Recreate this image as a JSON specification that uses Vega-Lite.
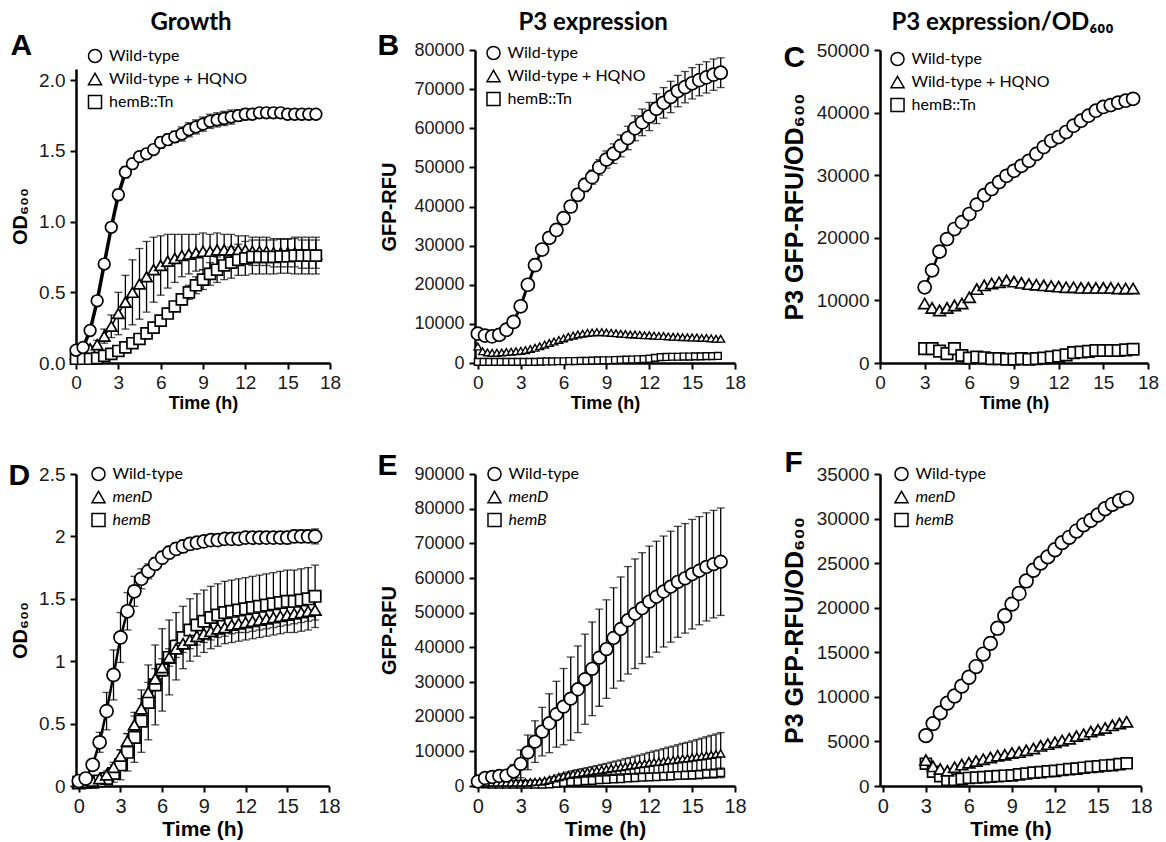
{
"$schema": "https://vega.github.io/schema/vega-lite/v6.json",
"padding": {"left": 8, "top": 10, "right": 6, "bottom": 6},
"background": "white",
"columns": 3,
"bounds": "flush",
"spacing": {"row": 111, "column": 145},
"resolve": {"scale": {"shape": "independent", "stroke": "independent"}, "legend": {"shape": "independent", "stroke": "independent"}},
"config": {
  "view": {"stroke": null},
  "axis": {"domainColor": "black", "domainWidth": 2.5, "tickColor": "black", "tickWidth": 2, "tickSize": 6, "grid": false, "labelFont": "Liberation Sans", "labelColor": "#1a1a1a", "titleFont": "Liberation Sans", "titleFontWeight": "bold", "titleColor": "black", "labelFlush": false, "labelOverlap": false, "labelBound": false},
  "axisX": {"labelPadding": 4, "titlePadding": 2},
  "axisY": {"labelPadding": 5, "titlePadding": 9},
  "point": {"filled": false, "fill": "white", "opacity": 1},
  "legend": {"title": null, "orient": "none", "symbolSize": 170, "symbolFillColor": "white", "symbolStrokeColor": "black", "symbolStrokeWidth": 1.5, "symbolOpacity": 1, "labelFont": "Lato", "labelFontSize": 16, "labelColor": "black", "labelOffset": 6, "rowPadding": 4, "padding": 0}
},
"datasets": {
"A": [
{"s":0,"t":0,"v":0.09,"e":0.01},{"s":0,"t":0.5,"v":0.11,"e":0.01},{"s":0,"t":1,"v":0.23,"e":0.02},{"s":0,"t":1.5,"v":0.44,"e":0.03},{"s":0,"t":2,"v":0.7,"e":0.03},{"s":0,"t":2.5,"v":0.96,"e":0.03},{"s":0,"t":3,"v":1.19,"e":0.04},{"s":0,"t":3.5,"v":1.35,"e":0.04},{"s":0,"t":4,"v":1.41,"e":0.03},{"s":0,"t":4.5,"v":1.46,"e":0.03},{"s":0,"t":5,"v":1.48,"e":0.03},{"s":0,"t":5.5,"v":1.51,"e":0.03},{"s":0,"t":6,"v":1.56,"e":0.04},{"s":0,"t":6.5,"v":1.58,"e":0.04},{"s":0,"t":7,"v":1.6,"e":0.04},{"s":0,"t":7.5,"v":1.62,"e":0.05},{"s":0,"t":8,"v":1.65,"e":0.05},{"s":0,"t":8.5,"v":1.67,"e":0.05},{"s":0,"t":9,"v":1.69,"e":0.05},{"s":0,"t":9.5,"v":1.71,"e":0.05},{"s":0,"t":10,"v":1.72,"e":0.05},{"s":0,"t":10.5,"v":1.73,"e":0.05},{"s":0,"t":11,"v":1.74,"e":0.05},{"s":0,"t":11.5,"v":1.75,"e":0.04},{"s":0,"t":12,"v":1.76,"e":0.04},{"s":0,"t":12.5,"v":1.76,"e":0.03},{"s":0,"t":13,"v":1.77,"e":0.03},{"s":0,"t":13.5,"v":1.77,"e":0.02},{"s":0,"t":14,"v":1.77,"e":0.02},{"s":0,"t":14.5,"v":1.77,"e":0.02},{"s":0,"t":15,"v":1.76,"e":0.02},{"s":0,"t":15.5,"v":1.76,"e":0.02},{"s":0,"t":16,"v":1.76,"e":0.02},{"s":0,"t":16.5,"v":1.76,"e":0.02},{"s":0,"t":17,"v":1.76,"e":0.02},
{"s":1,"t":0,"v":0.06,"e":0.01},{"s":1,"t":0.5,"v":0.08,"e":0.01},{"s":1,"t":1,"v":0.1,"e":0.02},{"s":1,"t":1.5,"v":0.13,"e":0.03},{"s":1,"t":2,"v":0.19,"e":0.05},{"s":1,"t":2.5,"v":0.26,"e":0.08},{"s":1,"t":3,"v":0.35,"e":0.15},{"s":1,"t":3.5,"v":0.43,"e":0.19},{"s":1,"t":4,"v":0.5,"e":0.23},{"s":1,"t":4.5,"v":0.56,"e":0.25},{"s":1,"t":5,"v":0.61,"e":0.25},{"s":1,"t":5.5,"v":0.66,"e":0.23},{"s":1,"t":6,"v":0.69,"e":0.21},{"s":1,"t":6.5,"v":0.72,"e":0.19},{"s":1,"t":7,"v":0.74,"e":0.17},{"s":1,"t":7.5,"v":0.76,"e":0.15},{"s":1,"t":8,"v":0.77,"e":0.14},{"s":1,"t":8.5,"v":0.78,"e":0.13},{"s":1,"t":9,"v":0.79,"e":0.13},{"s":1,"t":9.5,"v":0.79,"e":0.12},{"s":1,"t":10,"v":0.8,"e":0.12},{"s":1,"t":10.5,"v":0.8,"e":0.11},{"s":1,"t":11,"v":0.8,"e":0.11},{"s":1,"t":11.5,"v":0.8,"e":0.1},{"s":1,"t":12,"v":0.8,"e":0.1},{"s":1,"t":12.5,"v":0.79,"e":0.1},{"s":1,"t":13,"v":0.79,"e":0.1},{"s":1,"t":13.5,"v":0.79,"e":0.1},{"s":1,"t":14,"v":0.78,"e":0.1},{"s":1,"t":14.5,"v":0.78,"e":0.1},{"s":1,"t":15,"v":0.78,"e":0.1},{"s":1,"t":15.5,"v":0.78,"e":0.1},{"s":1,"t":16,"v":0.77,"e":0.1},{"s":1,"t":16.5,"v":0.77,"e":0.1},{"s":1,"t":17,"v":0.77,"e":0.1},
{"s":2,"t":0,"v":0.03},{"s":2,"t":0.5,"v":0.03},{"s":2,"t":1,"v":0.03},{"s":2,"t":1.5,"v":0.035},{"s":2,"t":2,"v":0.05},{"s":2,"t":2.5,"v":0.065},{"s":2,"t":3,"v":0.085},{"s":2,"t":3.5,"v":0.11},{"s":2,"t":4,"v":0.14,"e":0.01},{"s":2,"t":4.5,"v":0.17,"e":0.01},{"s":2,"t":5,"v":0.21,"e":0.01},{"s":2,"t":5.5,"v":0.25,"e":0.02},{"s":2,"t":6,"v":0.3,"e":0.02},{"s":2,"t":6.5,"v":0.35,"e":0.03},{"s":2,"t":7,"v":0.4,"e":0.03},{"s":2,"t":7.5,"v":0.45,"e":0.04},{"s":2,"t":8,"v":0.5,"e":0.05},{"s":2,"t":8.5,"v":0.55,"e":0.06},{"s":2,"t":9,"v":0.59,"e":0.07},{"s":2,"t":9.5,"v":0.63,"e":0.08},{"s":2,"t":10,"v":0.66,"e":0.09},{"s":2,"t":10.5,"v":0.69,"e":0.1},{"s":2,"t":11,"v":0.71,"e":0.11},{"s":2,"t":11.5,"v":0.73,"e":0.11},{"s":2,"t":12,"v":0.74,"e":0.12},{"s":2,"t":12.5,"v":0.75,"e":0.12},{"s":2,"t":13,"v":0.75,"e":0.12},{"s":2,"t":13.5,"v":0.75,"e":0.12},{"s":2,"t":14,"v":0.75,"e":0.12},{"s":2,"t":14.5,"v":0.755,"e":0.12},{"s":2,"t":15,"v":0.755,"e":0.12},{"s":2,"t":15.5,"v":0.76,"e":0.13},{"s":2,"t":16,"v":0.76,"e":0.13},{"s":2,"t":16.5,"v":0.76,"e":0.13},{"s":2,"t":17,"v":0.76,"e":0.13}
],
"B": [
{"s":0,"t":0,"v":7500,"e":500},{"s":0,"t":0.5,"v":7000,"e":500},{"s":0,"t":1,"v":6800,"e":500},{"s":0,"t":1.5,"v":7200,"e":600},{"s":0,"t":2,"v":8500,"e":700},{"s":0,"t":2.5,"v":10500,"e":900},{"s":0,"t":3,"v":14500,"e":1000},{"s":0,"t":3.5,"v":20000,"e":1200},{"s":0,"t":4,"v":25000,"e":1200},{"s":0,"t":4.5,"v":29000,"e":1200},{"s":0,"t":5,"v":32000,"e":1200},{"s":0,"t":5.5,"v":34000,"e":1300},{"s":0,"t":6,"v":37000,"e":1400},{"s":0,"t":6.5,"v":40000,"e":1500},{"s":0,"t":7,"v":43000,"e":1600},{"s":0,"t":7.5,"v":45500,"e":1700},{"s":0,"t":8,"v":47500,"e":1800},{"s":0,"t":8.5,"v":50000,"e":2000},{"s":0,"t":9,"v":52000,"e":2200},{"s":0,"t":9.5,"v":53500,"e":2500},{"s":0,"t":10,"v":55500,"e":2800},{"s":0,"t":10.5,"v":57500,"e":3000},{"s":0,"t":11,"v":60000,"e":3200},{"s":0,"t":11.5,"v":61500,"e":3400},{"s":0,"t":12,"v":63000,"e":3600},{"s":0,"t":12.5,"v":65000,"e":3800},{"s":0,"t":13,"v":66500,"e":3900},{"s":0,"t":13.5,"v":68000,"e":4000},{"s":0,"t":14,"v":69500,"e":4000},{"s":0,"t":14.5,"v":70500,"e":4000},{"s":0,"t":15,"v":71500,"e":4000},{"s":0,"t":15.5,"v":72300,"e":4000},{"s":0,"t":16,"v":73000,"e":4000},{"s":0,"t":16.5,"v":73700,"e":4000},{"s":0,"t":17,"v":74200,"e":3800},
{"s":1,"t":0,"v":4200},{"s":1,"t":0.33,"v":3000},{"s":1,"t":0.67,"v":2700},{"s":1,"t":1,"v":2600},{"s":1,"t":1.33,"v":2600},{"s":1,"t":1.67,"v":2700},{"s":1,"t":2,"v":2800},{"s":1,"t":2.33,"v":2900},{"s":1,"t":2.67,"v":3000},{"s":1,"t":3,"v":3100},{"s":1,"t":3.33,"v":3300},{"s":1,"t":3.67,"v":3600},{"s":1,"t":4,"v":3900},{"s":1,"t":4.33,"v":4300},{"s":1,"t":4.67,"v":4700},{"s":1,"t":5,"v":5100},{"s":1,"t":5.33,"v":5500},{"s":1,"t":5.67,"v":5900},{"s":1,"t":6,"v":6300},{"s":1,"t":6.33,"v":6700},{"s":1,"t":6.67,"v":7000},{"s":1,"t":7,"v":7300},{"s":1,"t":7.33,"v":7500},{"s":1,"t":7.67,"v":7700},{"s":1,"t":8,"v":7800},{"s":1,"t":8.33,"v":7900},{"s":1,"t":8.67,"v":7900},{"s":1,"t":9,"v":7800},{"s":1,"t":9.33,"v":7700},{"s":1,"t":9.67,"v":7600},{"s":1,"t":10,"v":7500},{"s":1,"t":10.33,"v":7400},{"s":1,"t":10.67,"v":7300},{"s":1,"t":11,"v":7300},{"s":1,"t":11.33,"v":7200},{"s":1,"t":11.67,"v":7100},{"s":1,"t":12,"v":7100},{"s":1,"t":12.33,"v":7000},{"s":1,"t":12.67,"v":6900},{"s":1,"t":13,"v":6900},{"s":1,"t":13.33,"v":6800},{"s":1,"t":13.67,"v":6700},{"s":1,"t":14,"v":6700},{"s":1,"t":14.33,"v":6600},{"s":1,"t":14.67,"v":6600},{"s":1,"t":15,"v":6500},{"s":1,"t":15.33,"v":6500},{"s":1,"t":15.67,"v":6400},{"s":1,"t":16,"v":6400},{"s":1,"t":16.33,"v":6300},{"s":1,"t":16.67,"v":6200},{"s":1,"t":17,"v":6200},
{"s":2,"t":0,"v":300},{"s":2,"t":0.4,"v":300},{"s":2,"t":0.8,"v":300},{"s":2,"t":1.2,"v":300},{"s":2,"t":1.6,"v":300},{"s":2,"t":2,"v":300},{"s":2,"t":2.4,"v":300},{"s":2,"t":2.8,"v":300},{"s":2,"t":3.2,"v":300},{"s":2,"t":3.6,"v":300},{"s":2,"t":4,"v":300},{"s":2,"t":4.4,"v":350},{"s":2,"t":4.8,"v":400},{"s":2,"t":5.2,"v":400},{"s":2,"t":5.6,"v":450},{"s":2,"t":6,"v":450},{"s":2,"t":6.4,"v":500},{"s":2,"t":6.8,"v":500},{"s":2,"t":7.2,"v":550},{"s":2,"t":7.6,"v":550},{"s":2,"t":8,"v":600},{"s":2,"t":8.4,"v":650},{"s":2,"t":8.8,"v":700},{"s":2,"t":9.2,"v":700},{"s":2,"t":9.6,"v":750},{"s":2,"t":10,"v":800},{"s":2,"t":10.4,"v":850},{"s":2,"t":10.8,"v":900},{"s":2,"t":11.2,"v":950},{"s":2,"t":11.6,"v":1000},{"s":2,"t":12,"v":1100},{"s":2,"t":12.4,"v":1300},{"s":2,"t":12.8,"v":1500},{"s":2,"t":13.2,"v":1550},{"s":2,"t":13.6,"v":1600},{"s":2,"t":14,"v":1600},{"s":2,"t":14.4,"v":1650},{"s":2,"t":14.8,"v":1650},{"s":2,"t":15.2,"v":1700},{"s":2,"t":15.6,"v":1700},{"s":2,"t":16,"v":1750},{"s":2,"t":16.4,"v":1750},{"s":2,"t":16.8,"v":1800}
],
"C": [
{"s":0,"t":3,"v":12100},{"s":0,"t":3.5,"v":14800},{"s":0,"t":4,"v":17800},{"s":0,"t":4.5,"v":19800},{"s":0,"t":5,"v":21400},{"s":0,"t":5.5,"v":22500},{"s":0,"t":6,"v":23800},{"s":0,"t":6.5,"v":25300},{"s":0,"t":7,"v":26800},{"s":0,"t":7.5,"v":27800},{"s":0,"t":8,"v":28900},{"s":0,"t":8.5,"v":29900},{"s":0,"t":9,"v":30700},{"s":0,"t":9.5,"v":31500},{"s":0,"t":10,"v":32300},{"s":0,"t":10.5,"v":33400},{"s":0,"t":11,"v":34500},{"s":0,"t":11.5,"v":35500},{"s":0,"t":12,"v":36100},{"s":0,"t":12.5,"v":36900},{"s":0,"t":13,"v":37900},{"s":0,"t":13.5,"v":38700},{"s":0,"t":14,"v":39500},{"s":0,"t":14.5,"v":40300},{"s":0,"t":15,"v":40900},{"s":0,"t":15.5,"v":41200},{"s":0,"t":16,"v":41600},{"s":0,"t":16.5,"v":41900},{"s":0,"t":17,"v":42200},
{"s":1,"t":3,"v":9500},{"s":1,"t":3.5,"v":8800},{"s":1,"t":4,"v":8400},{"s":1,"t":4.5,"v":8800},{"s":1,"t":5,"v":9200},{"s":1,"t":5.5,"v":9500},{"s":1,"t":6,"v":10500},{"s":1,"t":6.5,"v":11800},{"s":1,"t":7,"v":12400},{"s":1,"t":7.5,"v":12700},{"s":1,"t":8,"v":12900},{"s":1,"t":8.5,"v":13200},{"s":1,"t":9,"v":13000},{"s":1,"t":9.5,"v":12800},{"s":1,"t":10,"v":12600},{"s":1,"t":10.5,"v":12500},{"s":1,"t":11,"v":12400},{"s":1,"t":11.5,"v":12300},{"s":1,"t":12,"v":12200},{"s":1,"t":12.5,"v":12100},{"s":1,"t":13,"v":12100},{"s":1,"t":13.5,"v":12000},{"s":1,"t":14,"v":12000},{"s":1,"t":14.5,"v":12000},{"s":1,"t":15,"v":12000},{"s":1,"t":15.5,"v":12000},{"s":1,"t":16,"v":11900},{"s":1,"t":16.5,"v":11900},{"s":1,"t":17,"v":11900},
{"s":2,"t":3,"v":2300},{"s":2,"t":3.5,"v":2300},{"s":2,"t":4,"v":1900},{"s":2,"t":4.5,"v":1500},{"s":2,"t":5,"v":2300},{"s":2,"t":5.5,"v":1200},{"s":2,"t":6,"v":800},{"s":2,"t":6.5,"v":950},{"s":2,"t":7,"v":850},{"s":2,"t":7.5,"v":700},{"s":2,"t":8,"v":700},{"s":2,"t":8.5,"v":600},{"s":2,"t":9,"v":600},{"s":2,"t":9.5,"v":700},{"s":2,"t":10,"v":600},{"s":2,"t":10.5,"v":700},{"s":2,"t":11,"v":800},{"s":2,"t":11.5,"v":950},{"s":2,"t":12,"v":1100},{"s":2,"t":12.5,"v":1300},{"s":2,"t":13,"v":1650},{"s":2,"t":13.5,"v":1750},{"s":2,"t":14,"v":1850},{"s":2,"t":14.5,"v":2000},{"s":2,"t":15,"v":2000},{"s":2,"t":15.5,"v":2000},{"s":2,"t":16,"v":2000},{"s":2,"t":16.5,"v":2100},{"s":2,"t":17,"v":2200}
],
"D": [
{"s":0,"t":0,"v":0.04,"e":0.02},{"s":0,"t":0.5,"v":0.06,"e":0.02},{"s":0,"t":1,"v":0.17,"e":0.04},{"s":0,"t":1.5,"v":0.35,"e":0.08},{"s":0,"t":2,"v":0.6,"e":0.15},{"s":0,"t":2.5,"v":0.89,"e":0.2},{"s":0,"t":3,"v":1.19,"e":0.2},{"s":0,"t":3.5,"v":1.4,"e":0.15},{"s":0,"t":4,"v":1.56,"e":0.12},{"s":0,"t":4.5,"v":1.66,"e":0.08},{"s":0,"t":5,"v":1.72,"e":0.06},{"s":0,"t":5.5,"v":1.78,"e":0.05},{"s":0,"t":6,"v":1.83,"e":0.05},{"s":0,"t":6.5,"v":1.87,"e":0.05},{"s":0,"t":7,"v":1.9,"e":0.05},{"s":0,"t":7.5,"v":1.92,"e":0.05},{"s":0,"t":8,"v":1.94,"e":0.05},{"s":0,"t":8.5,"v":1.95,"e":0.04},{"s":0,"t":9,"v":1.96,"e":0.04},{"s":0,"t":9.5,"v":1.97,"e":0.04},{"s":0,"t":10,"v":1.97,"e":0.04},{"s":0,"t":10.5,"v":1.98,"e":0.04},{"s":0,"t":11,"v":1.98,"e":0.04},{"s":0,"t":11.5,"v":1.98,"e":0.04},{"s":0,"t":12,"v":1.99,"e":0.04},{"s":0,"t":12.5,"v":1.99,"e":0.04},{"s":0,"t":13,"v":1.99,"e":0.04},{"s":0,"t":13.5,"v":1.99,"e":0.04},{"s":0,"t":14,"v":1.99,"e":0.04},{"s":0,"t":14.5,"v":1.99,"e":0.04},{"s":0,"t":15,"v":1.99,"e":0.05},{"s":0,"t":15.5,"v":2,"e":0.05},{"s":0,"t":16,"v":2,"e":0.05},{"s":0,"t":16.5,"v":2,"e":0.05},{"s":0,"t":17,"v":2,"e":0.06},
{"s":1,"t":0,"v":0.02,"e":0.01},{"s":1,"t":0.5,"v":0.03,"e":0.01},{"s":1,"t":1,"v":0.04,"e":0.02},{"s":1,"t":1.5,"v":0.06,"e":0.02},{"s":1,"t":2,"v":0.09,"e":0.03},{"s":1,"t":2.5,"v":0.15,"e":0.04},{"s":1,"t":3,"v":0.24,"e":0.05},{"s":1,"t":3.5,"v":0.36,"e":0.06},{"s":1,"t":4,"v":0.49,"e":0.07},{"s":1,"t":4.5,"v":0.62,"e":0.08},{"s":1,"t":5,"v":0.75,"e":0.08},{"s":1,"t":5.5,"v":0.86,"e":0.08},{"s":1,"t":6,"v":0.95,"e":0.07},{"s":1,"t":6.5,"v":1.03,"e":0.07},{"s":1,"t":7,"v":1.1,"e":0.07},{"s":1,"t":7.5,"v":1.14,"e":0.07},{"s":1,"t":8,"v":1.17,"e":0.07},{"s":1,"t":8.5,"v":1.2,"e":0.07},{"s":1,"t":9,"v":1.22,"e":0.07},{"s":1,"t":9.5,"v":1.24,"e":0.07},{"s":1,"t":10,"v":1.26,"e":0.07},{"s":1,"t":10.5,"v":1.27,"e":0.07},{"s":1,"t":11,"v":1.29,"e":0.07},{"s":1,"t":11.5,"v":1.3,"e":0.07},{"s":1,"t":12,"v":1.31,"e":0.08},{"s":1,"t":12.5,"v":1.32,"e":0.08},{"s":1,"t":13,"v":1.33,"e":0.08},{"s":1,"t":13.5,"v":1.34,"e":0.08},{"s":1,"t":14,"v":1.35,"e":0.08},{"s":1,"t":14.5,"v":1.36,"e":0.08},{"s":1,"t":15,"v":1.37,"e":0.08},{"s":1,"t":15.5,"v":1.38,"e":0.08},{"s":1,"t":16,"v":1.39,"e":0.08},{"s":1,"t":16.5,"v":1.4,"e":0.08},{"s":1,"t":17,"v":1.41,"e":0.08},
{"s":2,"t":0,"v":0.03,"e":0.02},{"s":2,"t":0.5,"v":0.03,"e":0.02},{"s":2,"t":1,"v":0.03,"e":0.02},{"s":2,"t":1.5,"v":0.04,"e":0.02},{"s":2,"t":2,"v":0.06,"e":0.04},{"s":2,"t":2.5,"v":0.1,"e":0.07},{"s":2,"t":3,"v":0.17,"e":0.12},{"s":2,"t":3.5,"v":0.27,"e":0.15},{"s":2,"t":4,"v":0.39,"e":0.2},{"s":2,"t":4.5,"v":0.52,"e":0.25},{"s":2,"t":5,"v":0.67,"e":0.3},{"s":2,"t":5.5,"v":0.81,"e":0.32},{"s":2,"t":6,"v":0.93,"e":0.33},{"s":2,"t":6.5,"v":1.03,"e":0.3},{"s":2,"t":7,"v":1.12,"e":0.27},{"s":2,"t":7.5,"v":1.19,"e":0.25},{"s":2,"t":8,"v":1.25,"e":0.25},{"s":2,"t":8.5,"v":1.29,"e":0.25},{"s":2,"t":9,"v":1.32,"e":0.25},{"s":2,"t":9.5,"v":1.35,"e":0.25},{"s":2,"t":10,"v":1.37,"e":0.25},{"s":2,"t":10.5,"v":1.39,"e":0.25},{"s":2,"t":11,"v":1.4,"e":0.25},{"s":2,"t":11.5,"v":1.41,"e":0.25},{"s":2,"t":12,"v":1.42,"e":0.25},{"s":2,"t":12.5,"v":1.43,"e":0.25},{"s":2,"t":13,"v":1.44,"e":0.25},{"s":2,"t":13.5,"v":1.45,"e":0.25},{"s":2,"t":14,"v":1.46,"e":0.25},{"s":2,"t":14.5,"v":1.47,"e":0.25},{"s":2,"t":15,"v":1.48,"e":0.25},{"s":2,"t":15.5,"v":1.48,"e":0.25},{"s":2,"t":16,"v":1.49,"e":0.25},{"s":2,"t":16.5,"v":1.5,"e":0.25},{"s":2,"t":17,"v":1.52,"e":0.25}
],
"E": [
{"s":0,"t":0,"v":1300,"e":500},{"s":0,"t":0.5,"v":2300,"e":800},{"s":0,"t":1,"v":2600,"e":800},{"s":0,"t":1.5,"v":2900,"e":900},{"s":0,"t":2,"v":3000,"e":1000},{"s":0,"t":2.5,"v":4200,"e":2000},{"s":0,"t":3,"v":6400,"e":4000},{"s":0,"t":3.5,"v":9700,"e":5000},{"s":0,"t":4,"v":12800,"e":6000},{"s":0,"t":4.5,"v":15700,"e":7000},{"s":0,"t":5,"v":18100,"e":8500},{"s":0,"t":5.5,"v":20700,"e":9500},{"s":0,"t":6,"v":22900,"e":11000},{"s":0,"t":6.5,"v":25200,"e":12000},{"s":0,"t":7,"v":27900,"e":12500},{"s":0,"t":7.5,"v":30800,"e":13000},{"s":0,"t":8,"v":33800,"e":13500},{"s":0,"t":8.5,"v":37000,"e":14000},{"s":0,"t":9,"v":39500,"e":14200},{"s":0,"t":9.5,"v":42700,"e":14500},{"s":0,"t":10,"v":45300,"e":15000},{"s":0,"t":10.5,"v":47800,"e":15500},{"s":0,"t":11,"v":49700,"e":15800},{"s":0,"t":11.5,"v":51300,"e":16000},{"s":0,"t":12,"v":53200,"e":16000},{"s":0,"t":12.5,"v":54600,"e":16000},{"s":0,"t":13,"v":56100,"e":16000},{"s":0,"t":13.5,"v":57500,"e":16000},{"s":0,"t":14,"v":58900,"e":16000},{"s":0,"t":14.5,"v":59900,"e":15800},{"s":0,"t":15,"v":61100,"e":15800},{"s":0,"t":15.5,"v":62100,"e":15600},{"s":0,"t":16,"v":63200,"e":15600},{"s":0,"t":16.5,"v":64000,"e":15500},{"s":0,"t":17,"v":64700,"e":15500},
{"s":1,"t":0,"v":1200,"e":200},{"s":1,"t":0.33,"v":1100,"e":200},{"s":1,"t":0.67,"v":1000,"e":200},{"s":1,"t":1,"v":1000,"e":200},{"s":1,"t":1.33,"v":1000,"e":200},{"s":1,"t":1.67,"v":1000,"e":200},{"s":1,"t":2,"v":1000,"e":200},{"s":1,"t":2.33,"v":1000,"e":200},{"s":1,"t":2.67,"v":1000,"e":200},{"s":1,"t":3,"v":1000,"e":200},{"s":1,"t":3.33,"v":1000,"e":200},{"s":1,"t":3.67,"v":1100,"e":200},{"s":1,"t":4,"v":1200,"e":200},{"s":1,"t":4.33,"v":1300,"e":200},{"s":1,"t":4.67,"v":1500,"e":300},{"s":1,"t":5,"v":1800,"e":400},{"s":1,"t":5.33,"v":2200,"e":500},{"s":1,"t":5.67,"v":2600,"e":600},{"s":1,"t":6,"v":2900,"e":700},{"s":1,"t":6.33,"v":3200,"e":800},{"s":1,"t":6.67,"v":3500,"e":900},{"s":1,"t":7,"v":3700,"e":1000},{"s":1,"t":7.33,"v":3900,"e":1100},{"s":1,"t":7.67,"v":4100,"e":1200},{"s":1,"t":8,"v":4300,"e":1300},{"s":1,"t":8.33,"v":4500,"e":1400},{"s":1,"t":8.67,"v":4700,"e":1500},{"s":1,"t":9,"v":4900,"e":1600},{"s":1,"t":9.33,"v":5100,"e":1800},{"s":1,"t":9.67,"v":5300,"e":1900},{"s":1,"t":10,"v":5500,"e":2000},{"s":1,"t":10.33,"v":5700,"e":2200},{"s":1,"t":10.67,"v":5900,"e":2300},{"s":1,"t":11,"v":6100,"e":2500},{"s":1,"t":11.33,"v":6300,"e":2600},{"s":1,"t":11.67,"v":6500,"e":2800},{"s":1,"t":12,"v":6700,"e":3000},{"s":1,"t":12.33,"v":6900,"e":3200},{"s":1,"t":12.67,"v":7000,"e":3400},{"s":1,"t":13,"v":7200,"e":3600},{"s":1,"t":13.33,"v":7400,"e":3800},{"s":1,"t":13.67,"v":7500,"e":4000},{"s":1,"t":14,"v":7700,"e":4200},{"s":1,"t":14.33,"v":7900,"e":4400},{"s":1,"t":14.67,"v":8000,"e":4600},{"s":1,"t":15,"v":8200,"e":4800},{"s":1,"t":15.33,"v":8400,"e":5000},{"s":1,"t":15.67,"v":8600,"e":5200},{"s":1,"t":16,"v":8800,"e":5400},{"s":1,"t":16.33,"v":9000,"e":5600},{"s":1,"t":16.67,"v":9200,"e":5800},{"s":1,"t":17,"v":9400,"e":6000},
{"s":2,"t":0,"v":700,"e":100},{"s":2,"t":0.5,"v":600,"e":100},{"s":2,"t":1,"v":500,"e":100},{"s":2,"t":1.5,"v":500,"e":100},{"s":2,"t":2,"v":500,"e":100},{"s":2,"t":2.5,"v":500,"e":100},{"s":2,"t":3,"v":500,"e":100},{"s":2,"t":3.5,"v":500,"e":100},{"s":2,"t":4,"v":500,"e":100},{"s":2,"t":4.5,"v":500,"e":100},{"s":2,"t":5,"v":600,"e":200},{"s":2,"t":5.5,"v":800,"e":250},{"s":2,"t":6,"v":1000,"e":300},{"s":2,"t":6.5,"v":1200,"e":350},{"s":2,"t":7,"v":1300,"e":400},{"s":2,"t":7.5,"v":1500,"e":450},{"s":2,"t":8,"v":1600,"e":500},{"s":2,"t":8.5,"v":1800,"e":550},{"s":2,"t":9,"v":1900,"e":600},{"s":2,"t":9.5,"v":2000,"e":650},{"s":2,"t":10,"v":2100,"e":700},{"s":2,"t":10.5,"v":2300,"e":750},{"s":2,"t":11,"v":2400,"e":800},{"s":2,"t":11.5,"v":2500,"e":850},{"s":2,"t":12,"v":2600,"e":900},{"s":2,"t":12.5,"v":2700,"e":950},{"s":2,"t":13,"v":2800,"e":1000},{"s":2,"t":13.5,"v":2900,"e":1050},{"s":2,"t":14,"v":3000,"e":1100},{"s":2,"t":14.5,"v":3100,"e":1150},{"s":2,"t":15,"v":3200,"e":1200},{"s":2,"t":15.5,"v":3300,"e":1250},{"s":2,"t":16,"v":3500,"e":1300},{"s":2,"t":16.5,"v":3600,"e":1350},{"s":2,"t":17,"v":3800,"e":1400}
],
"F": [
{"s":0,"t":3,"v":5650},{"s":0,"t":3.5,"v":7000},{"s":0,"t":4,"v":8200},{"s":0,"t":4.5,"v":9300},{"s":0,"t":5,"v":10100},{"s":0,"t":5.5,"v":11200},{"s":0,"t":6,"v":12200},{"s":0,"t":6.5,"v":13400},{"s":0,"t":7,"v":14800},{"s":0,"t":7.5,"v":16000},{"s":0,"t":8,"v":17700},{"s":0,"t":8.5,"v":19100},{"s":0,"t":9,"v":20400},{"s":0,"t":9.5,"v":21600},{"s":0,"t":10,"v":23000},{"s":0,"t":10.5,"v":24200},{"s":0,"t":11,"v":25000},{"s":0,"t":11.5,"v":25700},{"s":0,"t":12,"v":26500},{"s":0,"t":12.5,"v":27300},{"s":0,"t":13,"v":27900},{"s":0,"t":13.5,"v":28600},{"s":0,"t":14,"v":29300},{"s":0,"t":14.5,"v":29800},{"s":0,"t":15,"v":30400},{"s":0,"t":15.5,"v":31100},{"s":0,"t":16,"v":31600},{"s":0,"t":16.5,"v":32000},{"s":0,"t":17,"v":32300},
{"s":1,"t":3,"v":2900},{"s":1,"t":3.5,"v":2200},{"s":1,"t":4,"v":1900},{"s":1,"t":4.5,"v":1700},{"s":1,"t":5,"v":2100},{"s":1,"t":5.5,"v":2400},{"s":1,"t":6,"v":2600},{"s":1,"t":6.5,"v":2800},{"s":1,"t":7,"v":3000},{"s":1,"t":7.5,"v":3200},{"s":1,"t":8,"v":3400},{"s":1,"t":8.5,"v":3500},{"s":1,"t":9,"v":3700},{"s":1,"t":9.5,"v":3800},{"s":1,"t":10,"v":4000},{"s":1,"t":10.5,"v":4200},{"s":1,"t":11,"v":4500},{"s":1,"t":11.5,"v":4700},{"s":1,"t":12,"v":4900},{"s":1,"t":12.5,"v":5100},{"s":1,"t":13,"v":5300},{"s":1,"t":13.5,"v":5600},{"s":1,"t":14,"v":5800},{"s":1,"t":14.5,"v":6100},{"s":1,"t":15,"v":6300},{"s":1,"t":15.5,"v":6500},{"s":1,"t":16,"v":6800},{"s":1,"t":16.5,"v":7000},{"s":1,"t":17,"v":7200},
{"s":2,"t":3,"v":2500},{"s":2,"t":3.5,"v":1600},{"s":2,"t":4,"v":1100},{"s":2,"t":4.5,"v":700},{"s":2,"t":5,"v":700},{"s":2,"t":5.5,"v":800},{"s":2,"t":6,"v":900},{"s":2,"t":6.5,"v":950},{"s":2,"t":7,"v":1000},{"s":2,"t":7.5,"v":1050},{"s":2,"t":8,"v":1100},{"s":2,"t":8.5,"v":1150},{"s":2,"t":9,"v":1200},{"s":2,"t":9.5,"v":1300},{"s":2,"t":10,"v":1400},{"s":2,"t":10.5,"v":1500},{"s":2,"t":11,"v":1550},{"s":2,"t":11.5,"v":1650},{"s":2,"t":12,"v":1700},{"s":2,"t":12.5,"v":1800},{"s":2,"t":13,"v":1900},{"s":2,"t":13.5,"v":1950},{"s":2,"t":14,"v":2050},{"s":2,"t":14.5,"v":2150},{"s":2,"t":15,"v":2200},{"s":2,"t":15.5,"v":2300},{"s":2,"t":16,"v":2350},{"s":2,"t":16.5,"v":2450},{"s":2,"t":17,"v":2550}
]
},
"concat": [
{
"width": 254, "height": 313, "data": {"name": "A"},
"resolve": {"axis": {"x": "independent", "y": "independent"}},
"layer": [
{"encoding": {
"x": {"field": "t", "type": "quantitative", "scale": {"domain": [0, 18], "nice": false, "zero": false}, "axis": {"values": [0,3,6,9,12,15,18], "title": "Time (h)", "labelFontSize": 19, "titleFontSize": 18}},
"y": {"field": "v", "type": "quantitative", "scale": {"domain": [0, 2.08], "nice": false, "range": [313, 19]}, "axis": {"values": [0,0.5,1,1.5,2], "format": ".1f", "title": "OD₆₀₀", "labelFontSize": 19, "titleFontSize": 20, "titlePadding": 8}}},
"layer": [
{"transform": [{"filter": "datum.e > 0"}], "mark": {"type": "errorbar", "ticks": true, "size": 8, "thickness": 1.3, "color": "black"}, "encoding": {"yError": {"field": "e"}}},
{"transform": [{"filter": "datum.s == 0"}], "mark": {"type": "line", "color": "black", "strokeWidth": 3.5}},
{"transform": [{"filter": "datum.s != 0"}], "mark": {"type": "line", "color": "black", "strokeWidth": 1.5}, "encoding": {"detail": {"field": "s", "type": "nominal"}}},
{"transform": [{"filter": "datum.s == 1"}], "mark": {"type": "point", "filled": false, "fill": "white", "strokeWidth": 1.7, "size": 130, "opacity": 1}, "encoding": {
"shape": {"field": "s", "type": "nominal", "scale": {"domain": [0,1,2], "range": ["circle","triangle-up","square"]}, "legend": {"legendX": 11, "legendY": -2, "labelExpr": "['Wild-type','Wild-type + HQNO','hemB::Tn'][datum.value]"}},
"stroke": {"field": "s", "type": "nominal", "scale": {"domain": [0,1,2], "range": ["black","black","black"]}, "legend": {"legendX": 11, "legendY": -2, "labelExpr": "['Wild-type','Wild-type + HQNO','hemB::Tn'][datum.value]"}}}},
{"transform": [{"filter": "datum.s == 2"}], "mark": {"type": "point", "filled": false, "fill": "white", "strokeWidth": 1.7, "size": 120, "opacity": 1}, "encoding": {
"shape": {"field": "s", "type": "nominal", "scale": {"domain": [0,1,2], "range": ["circle","triangle-up","square"]}, "legend": {"legendX": 11, "legendY": -2, "labelExpr": "['Wild-type','Wild-type + HQNO','hemB::Tn'][datum.value]"}},
"stroke": {"field": "s", "type": "nominal", "scale": {"domain": [0,1,2], "range": ["black","black","black"]}, "legend": {"legendX": 11, "legendY": -2, "labelExpr": "['Wild-type','Wild-type + HQNO','hemB::Tn'][datum.value]"}}}}
]},
{"transform": [{"filter": "datum.s == 0"}], "mark": {"type": "point", "filled": false, "fill": "white", "strokeWidth": 1.7, "size": 135, "opacity": 1},
"encoding": {
"x": {"field": "t", "type": "quantitative", "scale": {"domain": [0, 18], "nice": false, "zero": false}, "axis": {"orient": "top", "title": "Growth", "labels": false, "ticks": false, "domain": false, "titleX": 74, "titleY": -20.5, "titleAlign": "left", "titleAnchor": "start", "titleBaseline": "alphabetic", "titleAngle": 0, "titleFont": "Lato", "titleFontSize": 24, "titleFontWeight": "bold", "titleColor": "black"}},
"y": {"field": "v", "type": "quantitative", "scale": {"domain": [0, 2.08], "nice": false, "range": [313, 19]}, "axis": {"orient": "right", "title": "A", "labels": false, "ticks": false, "domain": false, "titleX": -320, "titleY": 4, "titleAlign": "left", "titleAnchor": "start", "titleBaseline": "alphabetic", "titleAngle": 0, "titleFontSize": 30, "titleColor": "black"}},
"shape": {"field": "s", "type": "nominal", "scale": {"domain": [0,1,2], "range": ["circle","triangle-up","square"]}, "legend": {"legendX": 11, "legendY": -2, "labelExpr": "['Wild-type','Wild-type + HQNO','hemB::Tn'][datum.value]"}},
"stroke": {"field": "s", "type": "nominal", "scale": {"domain": [0,1,2], "range": ["black","black","black"]}, "legend": {"legendX": 11, "legendY": -2, "labelExpr": "['Wild-type','Wild-type + HQNO','hemB::Tn'][datum.value]"}}}}
]
},
{
"width": 260, "height": 313, "data": {"name": "B"},
"resolve": {"axis": {"x": "independent", "y": "independent"}},
"layer": [
{"encoding": {
"x": {"field": "t", "type": "quantitative", "scale": {"domain": [-0.2, 18], "nice": false, "zero": false}, "axis": {"values": [0,3,6,9,12,15,18], "title": "Time (h)", "labelFontSize": 19, "titleFontSize": 18}},
"y": {"field": "v", "type": "quantitative", "scale": {"domain": [0, 80000], "nice": false}, "axis": {"values": [0,10000,20000,30000,40000,50000,60000,70000,80000], "format": "d", "title": "GFP-RFU", "labelFontSize": 18, "titleFontSize": 20, "titlePadding": 14}}},
"layer": [
{"transform": [{"filter": "datum.e > 0"}], "mark": {"type": "errorbar", "ticks": true, "size": 8, "thickness": 1.3, "color": "black"}, "encoding": {"yError": {"field": "e"}}},
{"transform": [{"filter": "datum.s == 0"}], "mark": {"type": "line", "color": "black", "strokeWidth": 3}},
{"transform": [{"filter": "datum.s != 0"}], "mark": {"type": "line", "color": "black", "strokeWidth": 1.2}, "encoding": {"detail": {"field": "s", "type": "nominal"}}},
{"transform": [{"filter": "datum.s == 1"}], "mark": {"type": "point", "filled": false, "fill": "white", "strokeWidth": 1.4, "size": 60, "opacity": 1}, "encoding": {
"shape": {"field": "s", "type": "nominal", "scale": {"domain": [0,1,2], "range": ["circle","triangle-up","square"]}, "legend": {"legendX": 10.5, "legendY": -5, "labelExpr": "['Wild-type','Wild-type + HQNO','hemB::Tn'][datum.value]"}},
"stroke": {"field": "s", "type": "nominal", "scale": {"domain": [0,1,2], "range": ["black","black","black"]}, "legend": {"legendX": 10.5, "legendY": -5, "labelExpr": "['Wild-type','Wild-type + HQNO','hemB::Tn'][datum.value]"}}}},
{"transform": [{"filter": "datum.s == 2"}], "mark": {"type": "point", "filled": false, "fill": "white", "strokeWidth": 1.4, "size": 46, "opacity": 1}, "encoding": {
"shape": {"field": "s", "type": "nominal", "scale": {"domain": [0,1,2], "range": ["circle","triangle-up","square"]}, "legend": {"legendX": 10.5, "legendY": -5, "labelExpr": "['Wild-type','Wild-type + HQNO','hemB::Tn'][datum.value]"}},
"stroke": {"field": "s", "type": "nominal", "scale": {"domain": [0,1,2], "range": ["black","black","black"]}, "legend": {"legendX": 10.5, "legendY": -5, "labelExpr": "['Wild-type','Wild-type + HQNO','hemB::Tn'][datum.value]"}}}}
]},
{"transform": [{"filter": "datum.s == 0"}], "mark": {"type": "point", "filled": false, "fill": "white", "strokeWidth": 1.7, "size": 170, "opacity": 1},
"encoding": {
"x": {"field": "t", "type": "quantitative", "scale": {"domain": [-0.2, 18], "nice": false, "zero": false}, "axis": {"orient": "top", "title": "P3 expression", "labels": false, "ticks": false, "domain": false, "titleX": 43, "titleY": -21, "titleAlign": "left", "titleAnchor": "start", "titleBaseline": "alphabetic", "titleAngle": 0, "titleFont": "Lato", "titleFontSize": 24, "titleFontWeight": "bold", "titleColor": "black"}},
"y": {"field": "v", "type": "quantitative", "scale": {"domain": [0, 80000], "nice": false}, "axis": {"orient": "right", "title": "B", "labels": false, "ticks": false, "domain": false, "titleX": -358, "titleY": 4, "titleAlign": "left", "titleAnchor": "start", "titleBaseline": "alphabetic", "titleAngle": 0, "titleFontSize": 30, "titleColor": "black"}},
"shape": {"field": "s", "type": "nominal", "scale": {"domain": [0,1,2], "range": ["circle","triangle-up","square"]}, "legend": {"legendX": 10.5, "legendY": -5, "labelExpr": "['Wild-type','Wild-type + HQNO','hemB::Tn'][datum.value]"}},
"stroke": {"field": "s", "type": "nominal", "scale": {"domain": [0,1,2], "range": ["black","black","black"]}, "legend": {"legendX": 10.5, "legendY": -5, "labelExpr": "['Wild-type','Wild-type + HQNO','hemB::Tn'][datum.value]"}}}}
]
},
{
"width": 268, "height": 313, "data": {"name": "C"},
"resolve": {"axis": {"x": "independent", "y": "independent"}},
"layer": [
{"encoding": {
"x": {"field": "t", "type": "quantitative", "scale": {"domain": [0, 18], "nice": false, "zero": false}, "axis": {"values": [0,3,6,9,12,15,18], "title": "Time (h)", "labelFontSize": 19, "titleFontSize": 18}},
"y": {"field": "v", "type": "quantitative", "scale": {"domain": [0, 50000], "nice": false}, "axis": {"values": [0,10000,20000,30000,40000,50000], "format": "d", "title": "P3 GFP-RFU/OD₆₀₀", "labelFontSize": 19, "titleFontSize": 25}}},
"layer": [
{"transform": [{"filter": "datum.s == 0"}], "mark": {"type": "line", "color": "black", "strokeWidth": 2.5}},
{"transform": [{"filter": "datum.s != 0"}], "mark": {"type": "line", "color": "black", "strokeWidth": 1}, "encoding": {"detail": {"field": "s", "type": "nominal"}}},
{"transform": [{"filter": "datum.s == 1"}], "mark": {"type": "point", "filled": false, "fill": "white", "strokeWidth": 1.7, "size": 140, "opacity": 1}, "encoding": {
"shape": {"field": "s", "type": "nominal", "scale": {"domain": [0,1,2], "range": ["circle","triangle-up","square"]}, "legend": {"legendX": 9.5, "legendY": 1, "labelExpr": "['Wild-type','Wild-type + HQNO','hemB::Tn'][datum.value]"}},
"stroke": {"field": "s", "type": "nominal", "scale": {"domain": [0,1,2], "range": ["black","black","black"]}, "legend": {"legendX": 9.5, "legendY": 1, "labelExpr": "['Wild-type','Wild-type + HQNO','hemB::Tn'][datum.value]"}}}},
{"transform": [{"filter": "datum.s == 2"}], "mark": {"type": "point", "filled": false, "fill": "white", "strokeWidth": 1.7, "size": 130, "opacity": 1}, "encoding": {
"shape": {"field": "s", "type": "nominal", "scale": {"domain": [0,1,2], "range": ["circle","triangle-up","square"]}, "legend": {"legendX": 9.5, "legendY": 1, "labelExpr": "['Wild-type','Wild-type + HQNO','hemB::Tn'][datum.value]"}},
"stroke": {"field": "s", "type": "nominal", "scale": {"domain": [0,1,2], "range": ["black","black","black"]}, "legend": {"legendX": 9.5, "legendY": 1, "labelExpr": "['Wild-type','Wild-type + HQNO','hemB::Tn'][datum.value]"}}}}
]},
{"transform": [{"filter": "datum.s == 0"}], "mark": {"type": "point", "filled": false, "fill": "white", "strokeWidth": 1.7, "size": 170, "opacity": 1},
"encoding": {
"x": {"field": "t", "type": "quantitative", "scale": {"domain": [0, 18], "nice": false, "zero": false}, "axis": {"orient": "top", "title": "P3 expression/OD₆₀₀", "labels": false, "ticks": false, "domain": false, "titleX": 11, "titleY": -21, "titleAlign": "left", "titleAnchor": "start", "titleBaseline": "alphabetic", "titleAngle": 0, "titleFont": "Lato", "titleFontSize": 24, "titleFontWeight": "bold", "titleColor": "black"}},
"y": {"field": "v", "type": "quantitative", "scale": {"domain": [0, 50000], "nice": false}, "axis": {"orient": "right", "title": "C", "labels": false, "ticks": false, "domain": false, "titleX": -365, "titleY": 16, "titleAlign": "left", "titleAnchor": "start", "titleBaseline": "alphabetic", "titleAngle": 0, "titleFontSize": 30, "titleColor": "black"}},
"shape": {"field": "s", "type": "nominal", "scale": {"domain": [0,1,2], "range": ["circle","triangle-up","square"]}, "legend": {"legendX": 9.5, "legendY": 1, "labelExpr": "['Wild-type','Wild-type + HQNO','hemB::Tn'][datum.value]"}},
"stroke": {"field": "s", "type": "nominal", "scale": {"domain": [0,1,2], "range": ["black","black","black"]}, "legend": {"legendX": 9.5, "legendY": 1, "labelExpr": "['Wild-type','Wild-type + HQNO','hemB::Tn'][datum.value]"}}}}
]
},
{
"width": 253, "height": 312, "data": {"name": "D"},
"resolve": {"axis": {"x": "independent", "y": "independent"}},
"layer": [
{"encoding": {
"x": {"field": "t", "type": "quantitative", "scale": {"domain": [-0.2, 18], "nice": false, "zero": false}, "axis": {"values": [0,3,6,9,12,15,18], "title": "Time (h)", "labelFontSize": 20, "titleFontSize": 21}},
"y": {"field": "v", "type": "quantitative", "scale": {"domain": [0, 2.5], "nice": false}, "axis": {"values": [0,0.5,1,1.5,2,2.5], "format": "~g", "title": "OD₆₀₀", "labelFontSize": 19, "titleFontSize": 20, "titlePadding": 8}}},
"layer": [
{"transform": [{"filter": "datum.e > 0"}], "mark": {"type": "errorbar", "ticks": true, "size": 8, "thickness": 1.3, "color": "black"}, "encoding": {"yError": {"field": "e"}}},
{"transform": [{"filter": "datum.s == 0"}], "mark": {"type": "line", "color": "black", "strokeWidth": 2.5}},
{"transform": [{"filter": "datum.s != 0"}], "mark": {"type": "line", "color": "black", "strokeWidth": 2}, "encoding": {"detail": {"field": "s", "type": "nominal"}}},
{"transform": [{"filter": "datum.s == 2"}], "mark": {"type": "point", "filled": false, "fill": "white", "strokeWidth": 1.7, "size": 130, "opacity": 1}, "encoding": {
"shape": {"field": "s", "type": "nominal", "scale": {"domain": [0,1,2], "range": ["circle","triangle-up","square"]}, "legend": {"legendX": 14.5, "legendY": -8, "labelExpr": "['Wild-type','menD','hemB'][datum.value]", "labelFontStyle": {"expr": "datum && datum.value > 0 ? 'italic' : 'normal'"}}},
"stroke": {"field": "s", "type": "nominal", "scale": {"domain": [0,1,2], "range": ["black","black","black"]}, "legend": {"legendX": 14.5, "legendY": -8, "labelExpr": "['Wild-type','menD','hemB'][datum.value]", "labelFontStyle": {"expr": "datum && datum.value > 0 ? 'italic' : 'normal'"}}}}},
{"transform": [{"filter": "datum.s == 1"}], "mark": {"type": "point", "filled": false, "fill": "white", "strokeWidth": 1.7, "size": 140, "opacity": 1}, "encoding": {
"shape": {"field": "s", "type": "nominal", "scale": {"domain": [0,1,2], "range": ["circle","triangle-up","square"]}, "legend": {"legendX": 14.5, "legendY": -8, "labelExpr": "['Wild-type','menD','hemB'][datum.value]", "labelFontStyle": {"expr": "datum && datum.value > 0 ? 'italic' : 'normal'"}}},
"stroke": {"field": "s", "type": "nominal", "scale": {"domain": [0,1,2], "range": ["black","black","black"]}, "legend": {"legendX": 14.5, "legendY": -8, "labelExpr": "['Wild-type','menD','hemB'][datum.value]", "labelFontStyle": {"expr": "datum && datum.value > 0 ? 'italic' : 'normal'"}}}}}
]},
{"transform": [{"filter": "datum.s == 0"}], "mark": {"type": "point", "filled": false, "fill": "white", "strokeWidth": 1.7, "size": 170, "opacity": 1},
"encoding": {
"x": {"field": "t", "type": "quantitative", "scale": {"domain": [-0.2, 18], "nice": false, "zero": false}, "axis": null},
"y": {"field": "v", "type": "quantitative", "scale": {"domain": [0, 2.5], "nice": false}, "axis": {"orient": "right", "title": "D", "labels": false, "ticks": false, "domain": false, "titleX": -321, "titleY": 10, "titleAlign": "left", "titleAnchor": "start", "titleBaseline": "alphabetic", "titleAngle": 0, "titleFontSize": 30, "titleColor": "black"}},
"shape": {"field": "s", "type": "nominal", "scale": {"domain": [0,1,2], "range": ["circle","triangle-up","square"]}, "legend": {"legendX": 14.5, "legendY": -8, "labelExpr": "['Wild-type','menD','hemB'][datum.value]", "labelFontStyle": {"expr": "datum && datum.value > 0 ? 'italic' : 'normal'"}}},
"stroke": {"field": "s", "type": "nominal", "scale": {"domain": [0,1,2], "range": ["black","black","black"]}, "legend": {"legendX": 14.5, "legendY": -8, "labelExpr": "['Wild-type','menD','hemB'][datum.value]", "labelFontStyle": {"expr": "datum && datum.value > 0 ? 'italic' : 'normal'"}}}}}
]
},
{
"width": 260, "height": 312, "data": {"name": "E"},
"resolve": {"axis": {"x": "independent", "y": "independent"}},
"layer": [
{"encoding": {
"x": {"field": "t", "type": "quantitative", "scale": {"domain": [-0.2, 18], "nice": false, "zero": false}, "axis": {"values": [0,3,6,9,12,15,18], "title": "Time (h)", "labelFontSize": 20, "titleFontSize": 21}},
"y": {"field": "v", "type": "quantitative", "scale": {"domain": [0, 90000], "nice": false}, "axis": {"values": [0,10000,20000,30000,40000,50000,60000,70000,80000,90000], "format": "d", "title": "GFP-RFU", "labelFontSize": 18, "titleFontSize": 20, "titlePadding": 14}}},
"layer": [
{"transform": [{"filter": "datum.e > 0"}], "mark": {"type": "errorbar", "ticks": true, "size": 8, "thickness": 1.3, "color": "black"}, "encoding": {"yError": {"field": "e"}}},
{"transform": [{"filter": "datum.s == 0"}], "mark": {"type": "line", "color": "black", "strokeWidth": 2.5}},
{"transform": [{"filter": "datum.s != 0"}], "mark": {"type": "line", "color": "black", "strokeWidth": 1.5}, "encoding": {"detail": {"field": "s", "type": "nominal"}}},
{"transform": [{"filter": "datum.s == 2"}], "mark": {"type": "point", "filled": false, "fill": "white", "strokeWidth": 1.5, "size": 56, "opacity": 1}, "encoding": {
"shape": {"field": "s", "type": "nominal", "scale": {"domain": [0,1,2], "range": ["circle","triangle-up","square"]}, "legend": {"legendX": 11.5, "legendY": -8, "labelExpr": "['Wild-type','menD','hemB'][datum.value]", "labelFontStyle": {"expr": "datum && datum.value > 0 ? 'italic' : 'normal'"}}},
"stroke": {"field": "s", "type": "nominal", "scale": {"domain": [0,1,2], "range": ["black","black","black"]}, "legend": {"legendX": 11.5, "legendY": -8, "labelExpr": "['Wild-type','menD','hemB'][datum.value]", "labelFontStyle": {"expr": "datum && datum.value > 0 ? 'italic' : 'normal'"}}}}},
{"transform": [{"filter": "datum.s == 1"}], "mark": {"type": "point", "filled": false, "fill": "white", "strokeWidth": 1.5, "size": 64, "opacity": 1}, "encoding": {
"shape": {"field": "s", "type": "nominal", "scale": {"domain": [0,1,2], "range": ["circle","triangle-up","square"]}, "legend": {"legendX": 11.5, "legendY": -8, "labelExpr": "['Wild-type','menD','hemB'][datum.value]", "labelFontStyle": {"expr": "datum && datum.value > 0 ? 'italic' : 'normal'"}}},
"stroke": {"field": "s", "type": "nominal", "scale": {"domain": [0,1,2], "range": ["black","black","black"]}, "legend": {"legendX": 11.5, "legendY": -8, "labelExpr": "['Wild-type','menD','hemB'][datum.value]", "labelFontStyle": {"expr": "datum && datum.value > 0 ? 'italic' : 'normal'"}}}}}
]},
{"transform": [{"filter": "datum.s == 0"}], "mark": {"type": "point", "filled": false, "fill": "white", "strokeWidth": 1.7, "size": 160, "opacity": 1},
"encoding": {
"x": {"field": "t", "type": "quantitative", "scale": {"domain": [-0.2, 18], "nice": false, "zero": false}, "axis": null},
"y": {"field": "v", "type": "quantitative", "scale": {"domain": [0, 90000], "nice": false}, "axis": {"orient": "right", "title": "E", "labels": false, "ticks": false, "domain": false, "titleX": -358, "titleY": 0, "titleAlign": "left", "titleAnchor": "start", "titleBaseline": "alphabetic", "titleAngle": 0, "titleFontSize": 30, "titleColor": "black"}},
"shape": {"field": "s", "type": "nominal", "scale": {"domain": [0,1,2], "range": ["circle","triangle-up","square"]}, "legend": {"legendX": 11.5, "legendY": -8, "labelExpr": "['Wild-type','menD','hemB'][datum.value]", "labelFontStyle": {"expr": "datum && datum.value > 0 ? 'italic' : 'normal'"}}},
"stroke": {"field": "s", "type": "nominal", "scale": {"domain": [0,1,2], "range": ["black","black","black"]}, "legend": {"legendX": 11.5, "legendY": -8, "labelExpr": "['Wild-type','menD','hemB'][datum.value]", "labelFontStyle": {"expr": "datum && datum.value > 0 ? 'italic' : 'normal'"}}}}}
]
},
{
"width": 261, "height": 312, "data": {"name": "F"},
"resolve": {"axis": {"x": "independent", "y": "independent"}},
"layer": [
{"encoding": {
"x": {"field": "t", "type": "quantitative", "scale": {"domain": [-0.2, 18], "nice": false, "zero": false}, "axis": {"values": [0,3,6,9,12,15,18], "title": "Time (h)", "labelFontSize": 20, "titleFontSize": 21}},
"y": {"field": "v", "type": "quantitative", "scale": {"domain": [0, 35000], "nice": false}, "axis": {"values": [0,5000,10000,15000,20000,25000,30000,35000], "format": "d", "title": "P3 GFP-RFU/OD₆₀₀", "labelFontSize": 19, "titleFontSize": 25}}},
"layer": [
{"transform": [{"filter": "datum.s == 0"}], "mark": {"type": "line", "color": "black", "strokeWidth": 2}},
{"transform": [{"filter": "datum.s != 0"}], "mark": {"type": "line", "color": "black", "strokeWidth": 1}, "encoding": {"detail": {"field": "s", "type": "nominal"}}},
{"transform": [{"filter": "datum.s == 2"}], "mark": {"type": "point", "filled": false, "fill": "white", "strokeWidth": 1.7, "size": 120, "opacity": 1}, "encoding": {
"shape": {"field": "s", "type": "nominal", "scale": {"domain": [0,1,2], "range": ["circle","triangle-up","square"]}, "legend": {"legendX": 13.5, "legendY": -8, "labelExpr": "['Wild-type','menD','hemB'][datum.value]", "labelFontStyle": {"expr": "datum && datum.value > 0 ? 'italic' : 'normal'"}}},
"stroke": {"field": "s", "type": "nominal", "scale": {"domain": [0,1,2], "range": ["black","black","black"]}, "legend": {"legendX": 13.5, "legendY": -8, "labelExpr": "['Wild-type','menD','hemB'][datum.value]", "labelFontStyle": {"expr": "datum && datum.value > 0 ? 'italic' : 'normal'"}}}}},
{"transform": [{"filter": "datum.s == 1"}], "mark": {"type": "point", "filled": false, "fill": "white", "strokeWidth": 1.7, "size": 140, "opacity": 1}, "encoding": {
"shape": {"field": "s", "type": "nominal", "scale": {"domain": [0,1,2], "range": ["circle","triangle-up","square"]}, "legend": {"legendX": 13.5, "legendY": -8, "labelExpr": "['Wild-type','menD','hemB'][datum.value]", "labelFontStyle": {"expr": "datum && datum.value > 0 ? 'italic' : 'normal'"}}},
"stroke": {"field": "s", "type": "nominal", "scale": {"domain": [0,1,2], "range": ["black","black","black"]}, "legend": {"legendX": 13.5, "legendY": -8, "labelExpr": "['Wild-type','menD','hemB'][datum.value]", "labelFontStyle": {"expr": "datum && datum.value > 0 ? 'italic' : 'normal'"}}}}}
]},
{"transform": [{"filter": "datum.s == 0"}], "mark": {"type": "point", "filled": false, "fill": "white", "strokeWidth": 1.7, "size": 185, "opacity": 1},
"encoding": {
"x": {"field": "t", "type": "quantitative", "scale": {"domain": [-0.2, 18], "nice": false, "zero": false}, "axis": null},
"y": {"field": "v", "type": "quantitative", "scale": {"domain": [0, 35000], "nice": false}, "axis": {"orient": "right", "title": "F", "labels": false, "ticks": false, "domain": false, "titleX": -357, "titleY": -3, "titleAlign": "left", "titleAnchor": "start", "titleBaseline": "alphabetic", "titleAngle": 0, "titleFontSize": 30, "titleColor": "black"}},
"shape": {"field": "s", "type": "nominal", "scale": {"domain": [0,1,2], "range": ["circle","triangle-up","square"]}, "legend": {"legendX": 13.5, "legendY": -8, "labelExpr": "['Wild-type','menD','hemB'][datum.value]", "labelFontStyle": {"expr": "datum && datum.value > 0 ? 'italic' : 'normal'"}}},
"stroke": {"field": "s", "type": "nominal", "scale": {"domain": [0,1,2], "range": ["black","black","black"]}, "legend": {"legendX": 13.5, "legendY": -8, "labelExpr": "['Wild-type','menD','hemB'][datum.value]", "labelFontStyle": {"expr": "datum && datum.value > 0 ? 'italic' : 'normal'"}}}}}
]
}
]
}
